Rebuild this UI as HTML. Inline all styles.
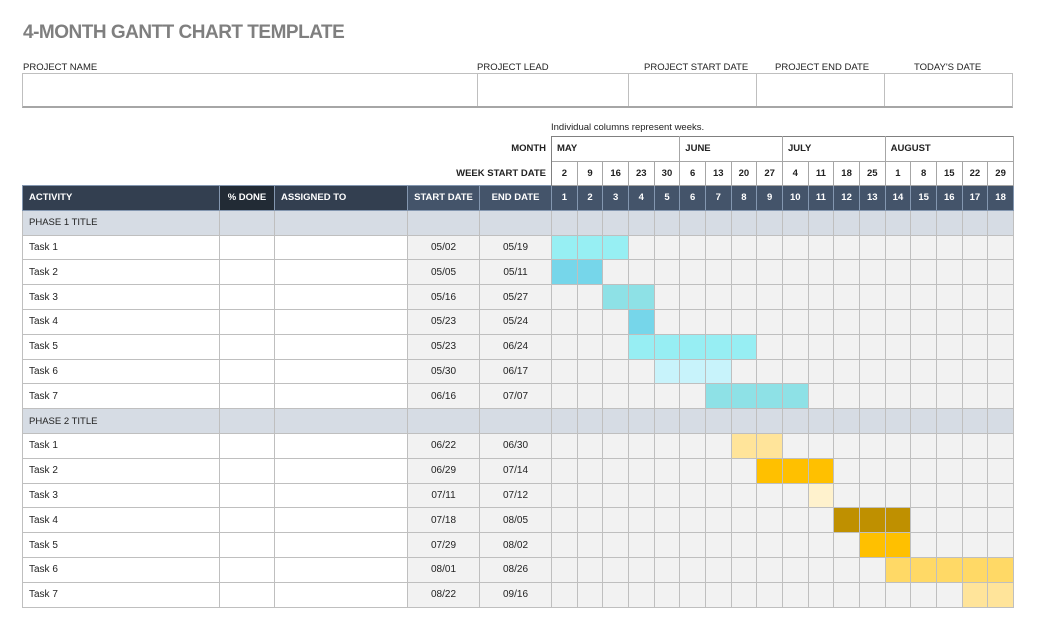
<!DOCTYPE html>
<html><head><meta charset="utf-8"><style>
*{margin:0;padding:0;box-sizing:border-box}
body{width:1038px;height:639px;background:#fff;font-family:"Liberation Sans",Arial,sans-serif;position:relative;overflow:hidden}
.t{position:absolute;left:23px;top:22px;font-size:19px;font-weight:bold;color:#7f7f7f;letter-spacing:-0.5px}
.lb{position:absolute;top:62px;font-size:9.5px;color:#222}
.box{position:absolute;top:73px;left:22px;width:991px;height:35px;border:1px solid #bfbfbf;border-bottom:2px solid #a6a6a6}
.box div{position:absolute;top:0;bottom:0;border-left:1px solid #bfbfbf}
.note{position:absolute;left:551px;top:122px;font-size:9.5px;color:#222}
table{position:absolute;left:22px;top:136px;border-collapse:collapse;table-layout:fixed;width:991px;font-size:10px}
td{border:1px solid #bfbfbf;height:24.8px;padding:0;text-align:center;color:#222;white-space:nowrap;overflow:hidden}
tr.m td,tr.w td{height:24.5px;font-weight:bold;font-size:9.5px;background:#fff;border-color:#a6a6a6}
tr.m td{text-align:left;padding-left:5px;border-top:1px solid #808080}
tr.m td.r,tr.w td.r{border:none;border-right:1px solid #808080;text-align:right;padding-right:5px;padding-left:0;font-weight:bold}
tr.h td{background:#44546a;color:#fff;font-weight:bold;font-size:9.5px;border-color:#8497b0}
tr.h td.a{background:#333f50;text-align:left;padding-left:6px}
tr.h td.p{background:#222b35}
tr.ph td{background:#d6dce4;text-align:left;padding-left:6px;font-size:9.5px}
tr.k td{background:#f2f2f2}
tr.k td.a{background:#fff;text-align:left;padding-left:6px}
tr.k td.wh{background:#fff}
td.L{border-left:1px solid #808080}
.c1{background:#97eff3!important}.c2{background:#76d6ea!important}.c3{background:#8ee1e6!important}.c5{background:#97eef3!important}.c6{background:#c8f3fb!important}
.y1{background:#ffe49a!important}.y2{background:#ffc000!important}.y3{background:#fff2cd!important}.y4{background:#bf9000!important}.y6{background:#ffd966!important}
</style></head><body>
<div class="t">4-MONTH GANTT CHART TEMPLATE</div>
<div class="lb" style="left:23px">PROJECT NAME</div>
<div class="lb" style="left:477px">PROJECT LEAD</div>
<div class="lb" style="left:644px">PROJECT START DATE</div>
<div class="lb" style="left:775px">PROJECT END DATE</div>
<div class="lb" style="left:914px">TODAY'S DATE</div>
<div class="box"><div style="left:454px"></div><div style="left:605px"></div><div style="left:733px"></div><div style="left:861px"></div></div>
<div class="note">Individual columns represent weeks.</div>
<table>
<colgroup><col style="width:197px"><col style="width:55px"><col style="width:133px"><col style="width:72px"><col style="width:72px">
<col span="18" style="width:25.67px"></colgroup>
<tr class="m"><td class="r" colspan="5">MONTH</td><td colspan="5" class="L">MAY</td><td colspan="4" class="L">JUNE</td><td colspan="4" class="L">JULY</td><td colspan="5" class="L">AUGUST</td></tr>
<tr class="w"><td class="r" colspan="5">WEEK START DATE</td><td class="L">2</td><td>9</td><td>16</td><td>23</td><td>30</td><td class="L">6</td><td>13</td><td>20</td><td>27</td><td class="L">4</td><td>11</td><td>18</td><td>25</td><td class="L">1</td><td>8</td><td>15</td><td>22</td><td>29</td></tr>
<tr class="h"><td class="a">ACTIVITY</td><td class="p">% DONE</td><td class="a">ASSIGNED TO</td><td>START DATE</td><td>END DATE</td><td>1</td><td>2</td><td>3</td><td>4</td><td>5</td><td>6</td><td>7</td><td>8</td><td>9</td><td>10</td><td>11</td><td>12</td><td>13</td><td>14</td><td>15</td><td>16</td><td>17</td><td>18</td></tr>
<tr class="ph"><td>PHASE 1 TITLE</td><td></td><td></td><td></td><td></td><td class="L"></td><td></td><td></td><td></td><td></td><td class="L"></td><td></td><td></td><td></td><td class="L"></td><td></td><td></td><td></td><td class="L"></td><td></td><td></td><td></td><td></td></tr>
<tr class="k"><td class="a">Task 1</td><td class="wh"></td><td class="wh"></td><td>05/02</td><td>05/19</td><td class="L c1"></td><td class="c1"></td><td class="c1"></td><td></td><td></td><td class="L"></td><td></td><td></td><td></td><td class="L"></td><td></td><td></td><td></td><td class="L"></td><td></td><td></td><td></td><td></td></tr>
<tr class="k"><td class="a">Task 2</td><td class="wh"></td><td class="wh"></td><td>05/05</td><td>05/11</td><td class="L c2"></td><td class="c2"></td><td></td><td></td><td></td><td class="L"></td><td></td><td></td><td></td><td class="L"></td><td></td><td></td><td></td><td class="L"></td><td></td><td></td><td></td><td></td></tr>
<tr class="k"><td class="a">Task 3</td><td class="wh"></td><td class="wh"></td><td>05/16</td><td>05/27</td><td class="L"></td><td></td><td class="c3"></td><td class="c3"></td><td></td><td class="L"></td><td></td><td></td><td></td><td class="L"></td><td></td><td></td><td></td><td class="L"></td><td></td><td></td><td></td><td></td></tr>
<tr class="k"><td class="a">Task 4</td><td class="wh"></td><td class="wh"></td><td>05/23</td><td>05/24</td><td class="L"></td><td></td><td></td><td class="c2"></td><td></td><td class="L"></td><td></td><td></td><td></td><td class="L"></td><td></td><td></td><td></td><td class="L"></td><td></td><td></td><td></td><td></td></tr>
<tr class="k"><td class="a">Task 5</td><td class="wh"></td><td class="wh"></td><td>05/23</td><td>06/24</td><td class="L"></td><td></td><td></td><td class="c5"></td><td class="c5"></td><td class="L c5"></td><td class="c5"></td><td class="c5"></td><td></td><td class="L"></td><td></td><td></td><td></td><td class="L"></td><td></td><td></td><td></td><td></td></tr>
<tr class="k"><td class="a">Task 6</td><td class="wh"></td><td class="wh"></td><td>05/30</td><td>06/17</td><td class="L"></td><td></td><td></td><td></td><td class="c6"></td><td class="L c6"></td><td class="c6"></td><td></td><td></td><td class="L"></td><td></td><td></td><td></td><td class="L"></td><td></td><td></td><td></td><td></td></tr>
<tr class="k"><td class="a">Task 7</td><td class="wh"></td><td class="wh"></td><td>06/16</td><td>07/07</td><td class="L"></td><td></td><td></td><td></td><td></td><td class="L"></td><td class="c3"></td><td class="c3"></td><td class="c3"></td><td class="L c3"></td><td></td><td></td><td></td><td class="L"></td><td></td><td></td><td></td><td></td></tr>
<tr class="ph"><td>PHASE 2 TITLE</td><td></td><td></td><td></td><td></td><td class="L"></td><td></td><td></td><td></td><td></td><td class="L"></td><td></td><td></td><td></td><td class="L"></td><td></td><td></td><td></td><td class="L"></td><td></td><td></td><td></td><td></td></tr>
<tr class="k"><td class="a">Task 1</td><td class="wh"></td><td class="wh"></td><td>06/22</td><td>06/30</td><td class="L"></td><td></td><td></td><td></td><td></td><td class="L"></td><td></td><td class="y1"></td><td class="y1"></td><td class="L"></td><td></td><td></td><td></td><td class="L"></td><td></td><td></td><td></td><td></td></tr>
<tr class="k"><td class="a">Task 2</td><td class="wh"></td><td class="wh"></td><td>06/29</td><td>07/14</td><td class="L"></td><td></td><td></td><td></td><td></td><td class="L"></td><td></td><td></td><td class="y2"></td><td class="L y2"></td><td class="y2"></td><td></td><td></td><td class="L"></td><td></td><td></td><td></td><td></td></tr>
<tr class="k"><td class="a">Task 3</td><td class="wh"></td><td class="wh"></td><td>07/11</td><td>07/12</td><td class="L"></td><td></td><td></td><td></td><td></td><td class="L"></td><td></td><td></td><td></td><td class="L"></td><td class="y3"></td><td></td><td></td><td class="L"></td><td></td><td></td><td></td><td></td></tr>
<tr class="k"><td class="a">Task 4</td><td class="wh"></td><td class="wh"></td><td>07/18</td><td>08/05</td><td class="L"></td><td></td><td></td><td></td><td></td><td class="L"></td><td></td><td></td><td></td><td class="L"></td><td></td><td class="y4"></td><td class="y4"></td><td class="L y4"></td><td></td><td></td><td></td><td></td></tr>
<tr class="k"><td class="a">Task 5</td><td class="wh"></td><td class="wh"></td><td>07/29</td><td>08/02</td><td class="L"></td><td></td><td></td><td></td><td></td><td class="L"></td><td></td><td></td><td></td><td class="L"></td><td></td><td></td><td class="y2"></td><td class="L y2"></td><td></td><td></td><td></td><td></td></tr>
<tr class="k"><td class="a">Task 6</td><td class="wh"></td><td class="wh"></td><td>08/01</td><td>08/26</td><td class="L"></td><td></td><td></td><td></td><td></td><td class="L"></td><td></td><td></td><td></td><td class="L"></td><td></td><td></td><td></td><td class="L y6"></td><td class="y6"></td><td class="y6"></td><td class="y6"></td><td class="y6"></td></tr>
<tr class="k"><td class="a">Task 7</td><td class="wh"></td><td class="wh"></td><td>08/22</td><td>09/16</td><td class="L"></td><td></td><td></td><td></td><td></td><td class="L"></td><td></td><td></td><td></td><td class="L"></td><td></td><td></td><td></td><td class="L"></td><td></td><td></td><td class="y1"></td><td class="y1"></td></tr>
</table>
</body></html>
